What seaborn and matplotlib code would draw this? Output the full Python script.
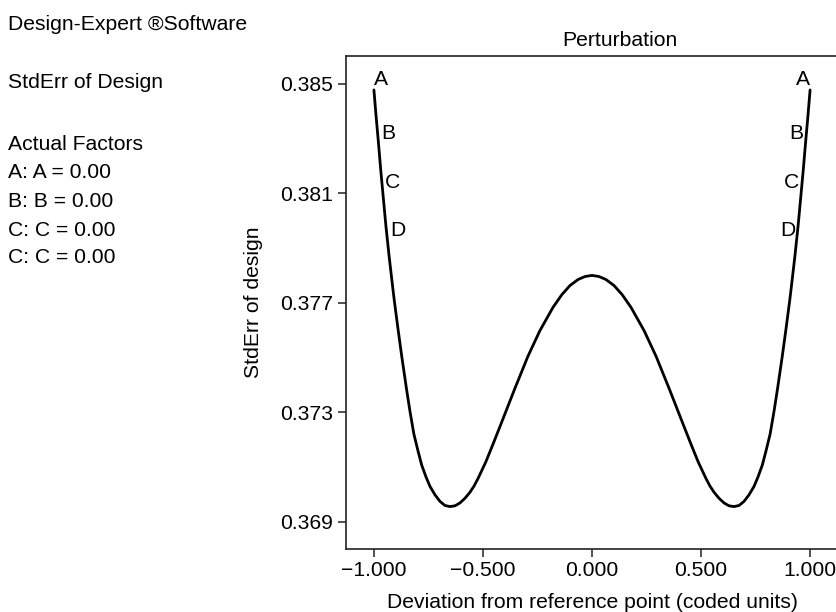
import matplotlib
matplotlib.use("Agg")
import matplotlib.pyplot as plt
import seaborn as sns
import pandas as pd
from matplotlib.ticker import FuncFormatter

# ---------------- data ----------------
deviation = [-1.000, -0.991, -0.980, -0.968, -0.957, -0.945, -0.931, -0.917, -0.907, -0.889,
             -0.872, -0.850, -0.835, -0.817, -0.798, -0.781, -0.761, -0.743, -0.720, -0.697,
             -0.674, -0.651, -0.628, -0.606, -0.583, -0.560, -0.541, -0.523, -0.486, -0.450,
             -0.408, -0.353, -0.294, -0.239, -0.179, -0.138, -0.101, -0.064, -0.032, 0.000,
             0.032, 0.064, 0.101, 0.138, 0.179, 0.239, 0.294, 0.353, 0.408, 0.450,
             0.486, 0.523, 0.541, 0.560, 0.583, 0.606, 0.628, 0.651, 0.674, 0.697,
             0.720, 0.743, 0.761, 0.781, 0.798, 0.817, 0.835, 0.850, 0.872, 0.889,
             0.907, 0.917, 0.931, 0.945, 0.957, 0.968, 0.980, 0.991, 1.000]
stderr = [0.38478, 0.38391, 0.38292, 0.38179, 0.38084, 0.37981, 0.37875, 0.37778, 0.37711, 0.37601,
          0.37502, 0.37382, 0.37305, 0.37221, 0.37159, 0.37107, 0.37063, 0.37029, 0.36998, 0.36974,
          0.36959, 0.36955, 0.36958, 0.36968, 0.36985, 0.37007, 0.37030, 0.37057, 0.37120, 0.37191,
          0.37276, 0.37388, 0.37504, 0.37598, 0.37683, 0.37730, 0.37763, 0.37785, 0.37796, 0.37800,
          0.37796, 0.37785, 0.37763, 0.37730, 0.37683, 0.37598, 0.37504, 0.37388, 0.37276, 0.37191,
          0.37120, 0.37057, 0.37030, 0.37007, 0.36985, 0.36968, 0.36958, 0.36955, 0.36959, 0.36974,
          0.36998, 0.37029, 0.37063, 0.37107, 0.37159, 0.37221, 0.37305, 0.37382, 0.37502, 0.37601,
          0.37711, 0.37778, 0.37875, 0.37981, 0.38084, 0.38179, 0.38292, 0.38391, 0.38478]

factor_labels = ["A", "B", "C", "D"]
x_ticks = [-1.0, -0.5, 0.0, 0.5, 1.0]
y_ticks = [0.369, 0.373, 0.377, 0.381, 0.385]

side_lines = ["Design-Expert \u00aeSoftware", "StdErr of Design", "Actual Factors",
              "A: A = 0.00", "B: B = 0.00", "C: C = 0.00", "C: C = 0.00"]

# ---------------- style ----------------
sns.set_theme(style="ticks")
plt.rcParams["font.family"] = ["Liberation Sans", "DejaVu Sans"]
plt.rcParams["text.color"] = "black"
plt.rcParams["axes.labelcolor"] = "black"
FS = 15.2

W, H = 837, 612
fig = plt.figure(figsize=(W / 100, H / 100), dpi=100)
ax = fig.add_axes([346 / W, 1 - 549 / H, (838 - 346) / W, (549 - 56) / H])

df = pd.DataFrame({"dev": deviation, "se": stderr})
sns.lineplot(data=df, x="dev", y="se", sort=False, estimator=None,
             color="black", linewidth=2.0, ax=ax)

fmt = FuncFormatter(lambda v, p: f"{v:.3f}".replace("-", "\u2212"))
ax.set_xlim(-1.128, 1.128)
ax.set_ylim(0.36800, 0.38602)
ax.set_xticks(x_ticks)
ax.set_yticks(y_ticks)
ax.xaxis.set_major_formatter(fmt)
ax.yaxis.set_major_formatter(fmt)
ax.tick_params(axis="both", direction="out", length=6, width=1.1,
               color="#222222", labelsize=FS, labelcolor="black", pad=3)
ax.set_xlabel("")
ax.set_ylabel("")
for sp in ax.spines.values():
    sp.set_visible(True)
    sp.set_color("#222222")
    sp.set_linewidth(1.2)

# factor labels near the curve ends
left_pos = [(-0.969, 0.38515), (-0.934, 0.38320), (-0.914, 0.38140), (-0.889, 0.37964)]
right_pos = [(0.966, 0.38515), (0.939, 0.38320), (0.916, 0.38140), (0.896, 0.37964)]
for lab, (lx, ly), (rx, ry) in zip(factor_labels, left_pos, right_pos):
    ax.text(lx, ly, lab, ha="center", va="center", fontsize=FS, color="black")
    ax.text(rx, ry, lab, ha="center", va="center", fontsize=FS, color="black")

# axis titles and chart title
fig.text(620 / W, 1 - 40 / H, "Perturbation", ha="center", va="center", fontsize=FS)
fig.text(592 / W, 1 - 602 / H, "Deviation from reference point (coded units)",
         ha="center", va="center", fontsize=FS)
fig.text(254 / W, 1 - 302 / H, "StdErr of design", ha="center", va="center",
         rotation=90, fontsize=FS)

# left information panel
side_y = [24, 83, 145, 173, 202, 230, 257]
for txt, yy in zip(side_lines, side_y):
    fig.text(8 / W, 1 - yy / H, txt, ha="left", va="center", fontsize=FS)

fig.savefig("out.png", dpi=100, facecolor="white")
